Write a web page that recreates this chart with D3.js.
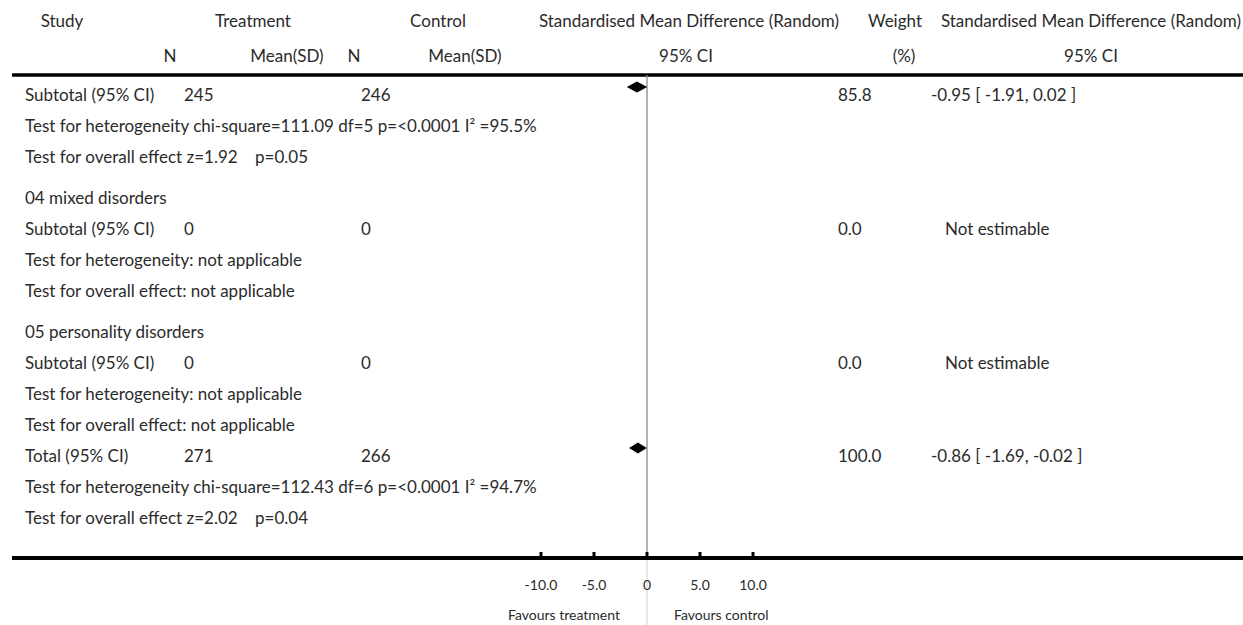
<!DOCTYPE html>
<html>
<head>
<meta charset="utf-8">
<script src="https://cdn.jsdelivr.net/npm/d3@7/dist/d3.min.js"></script>
<style>
  html, body { margin: 0; padding: 0; background: #fff; }
  svg { display: block; }
  text { font-family: Lato, "Open Sans", sans-serif; fill: #2b2b2b; white-space: pre; }
</style>
</head>
<body>
<svg id="forest" width="1243" height="625"></svg>
<script>
// Column headers
const headerTop = ["Study", "Treatment", "Control", "Standardised Mean Difference (Random)", "Weight", "Standardised Mean Difference (Random)"];
const headerSub = ["N", "Mean(SD)", "N", "Mean(SD)", "95% CI", "(%)", "95% CI"];

// Subgroup blocks: title, summary row, heterogeneity and overall-effect lines
const groupTitles = [null, "04 mixed disorders", "05 personality disorders", null];
const summaryLabels = ["Subtotal (95% CI)", "Subtotal (95% CI)", "Subtotal (95% CI)", "Total (95% CI)"];
const treatmentN = [245, 0, 0, 271];
const controlN = [246, 0, 0, 266];
const weightPct = ["85.8", "0.0", "0.0", "100.0"];
const smdEstimate = [-0.95, null, null, -0.86];
const smdLower = [-1.91, null, null, -1.69];
const smdUpper = [0.02, null, null, -0.02];
const heterogeneityText = [
  "Test for heterogeneity chi-square=111.09 df=5 p=<0.0001 I\u00B2 =95.5%",
  "Test for heterogeneity: not applicable",
  "Test for heterogeneity: not applicable",
  "Test for heterogeneity chi-square=112.43 df=6 p=<0.0001 I\u00B2 =94.7%"
];
const overallEffectText = [
  "Test for overall effect z=1.92    p=0.05",
  "Test for overall effect: not applicable",
  "Test for overall effect: not applicable",
  "Test for overall effect z=2.02    p=0.04"
];

// Axis
const axisTicks = [-10, -5, 0, 5, 10];
const axisTickLabels = ["-10.0", "-5.0", "0", "5.0", "10.0"];
const favourLabels = ["Favours treatment", "Favours control"];

const svg = d3.select("#forest");
const W = 1243, H = 625;
const fontSize = 17;
const smallSize = 14;

// Column anchors
const col = {
  study: 25,
  nT: 184,
  nC: 361,
  weight: 838,
  ci: 931,
  notEst: 945
};

const x = d3.scaleLinear().domain([-10, 10]).range([541, 753]);

// Header
const headTopX = [62, 253, 438, 689, 895, 1091];
const headSubX = [170, 287, 354, 465, 686, 904, 1091];
svg.append("g").selectAll("text").data(headerTop).join("text")
  .attr("x", (d, i) => headTopX[i]).attr("y", 21)
  .attr("dy", "0.35em").attr("text-anchor", "middle")
  .attr("font-size", fontSize).text(d => d);
svg.append("g").selectAll("text").data(headerSub).join("text")
  .attr("x", (d, i) => headSubX[i]).attr("y", 56)
  .attr("dy", "0.35em").attr("text-anchor", "middle")
  .attr("font-size", fontSize).text(d => d);

// Header rule
svg.append("line").attr("x1", 12).attr("x2", W).attr("y1", 75).attr("y2", 75)
  .attr("stroke", "#000").attr("stroke-width", 3.5);

// Row layout
const rowStep = 31, groupGap = 10, firstRow = 95;
let slot = 0, gaps = 0;
const rows = [];
summaryLabels.forEach((lab, g) => {
  if (groupTitles[g]) {
    gaps += 1;
    rows.push({ type: "title", text: groupTitles[g], y: firstRow + slot * rowStep + gaps * groupGap });
    slot++;
  }
  rows.push({ type: "summary", g, text: lab, y: firstRow + slot * rowStep + gaps * groupGap });
  slot++;
  rows.push({ type: "note", text: heterogeneityText[g], y: firstRow + slot * rowStep + gaps * groupGap });
  slot++;
  rows.push({ type: "note", text: overallEffectText[g], y: firstRow + slot * rowStep + gaps * groupGap });
  slot++;
});

// Null-effect line
const axisY = 558;
svg.append("line").attr("x1", x(0)).attr("x2", x(0)).attr("y1", 75).attr("y2", axisY)
  .attr("stroke", "#8a8a8a").attr("stroke-width", 1.3);
svg.append("line").attr("x1", x(0)).attr("x2", x(0)).attr("y1", axisY).attr("y2", H)
  .attr("stroke", "#dcdcdc").attr("stroke-width", 1.3);

const body = svg.append("g").attr("font-size", fontSize);
rows.forEach(r => {
  body.append("text").attr("x", col.study).attr("y", r.y).attr("dy", "0.35em").text(r.text);
  if (r.type === "summary") {
    const g = r.g;
    body.append("text").attr("x", col.nT).attr("y", r.y).attr("dy", "0.35em").text(treatmentN[g]);
    body.append("text").attr("x", col.nC).attr("y", r.y).attr("dy", "0.35em").text(controlN[g]);
    body.append("text").attr("x", col.weight).attr("y", r.y).attr("dy", "0.35em").text(weightPct[g]);
    if (smdEstimate[g] === null) {
      body.append("text").attr("x", col.notEst).attr("y", r.y).attr("dy", "0.35em").text("Not estimable");
    } else {
      const ciText = `${smdEstimate[g].toFixed(2)} [ ${smdLower[g].toFixed(2)}, ${smdUpper[g].toFixed(2)} ]`;
      body.append("text").attr("x", col.ci).attr("y", r.y).attr("dy", "0.35em").text(ciText);
      const cy = r.y - 8, hh = 5.5;
      const pts = [[x(smdLower[g]), cy], [x(smdEstimate[g]), cy - hh], [x(smdUpper[g]), cy], [x(smdEstimate[g]), cy + hh]];
      svg.append("path").attr("d", d3.line()(pts) + "Z").attr("fill", "#000");
    }
  }
});

// Bottom axis
svg.append("line").attr("x1", 12).attr("x2", W).attr("y1", axisY).attr("y2", axisY)
  .attr("stroke", "#000").attr("stroke-width", 4);
svg.append("g").selectAll("line").data(axisTicks).join("line")
  .attr("x1", d => x(d)).attr("x2", d => x(d))
  .attr("y1", axisY - 6).attr("y2", axisY)
  .attr("stroke", "#000").attr("stroke-width", 3);
svg.append("g").selectAll("text").data(axisTicks).join("text")
  .attr("x", d => x(d)).attr("y", 585).attr("dy", "0.35em")
  .attr("text-anchor", "middle").attr("font-size", smallSize)
  .text((d, i) => axisTickLabels[i]);
svg.append("text").attr("x", x(0) - 27).attr("y", 615).attr("dy", "0.35em")
  .attr("text-anchor", "end").attr("font-size", smallSize).text(favourLabels[0]);
svg.append("text").attr("x", x(0) + 27).attr("y", 615).attr("dy", "0.35em")
  .attr("text-anchor", "start").attr("font-size", smallSize).text(favourLabels[1]);
</script>
</body>
</html>
